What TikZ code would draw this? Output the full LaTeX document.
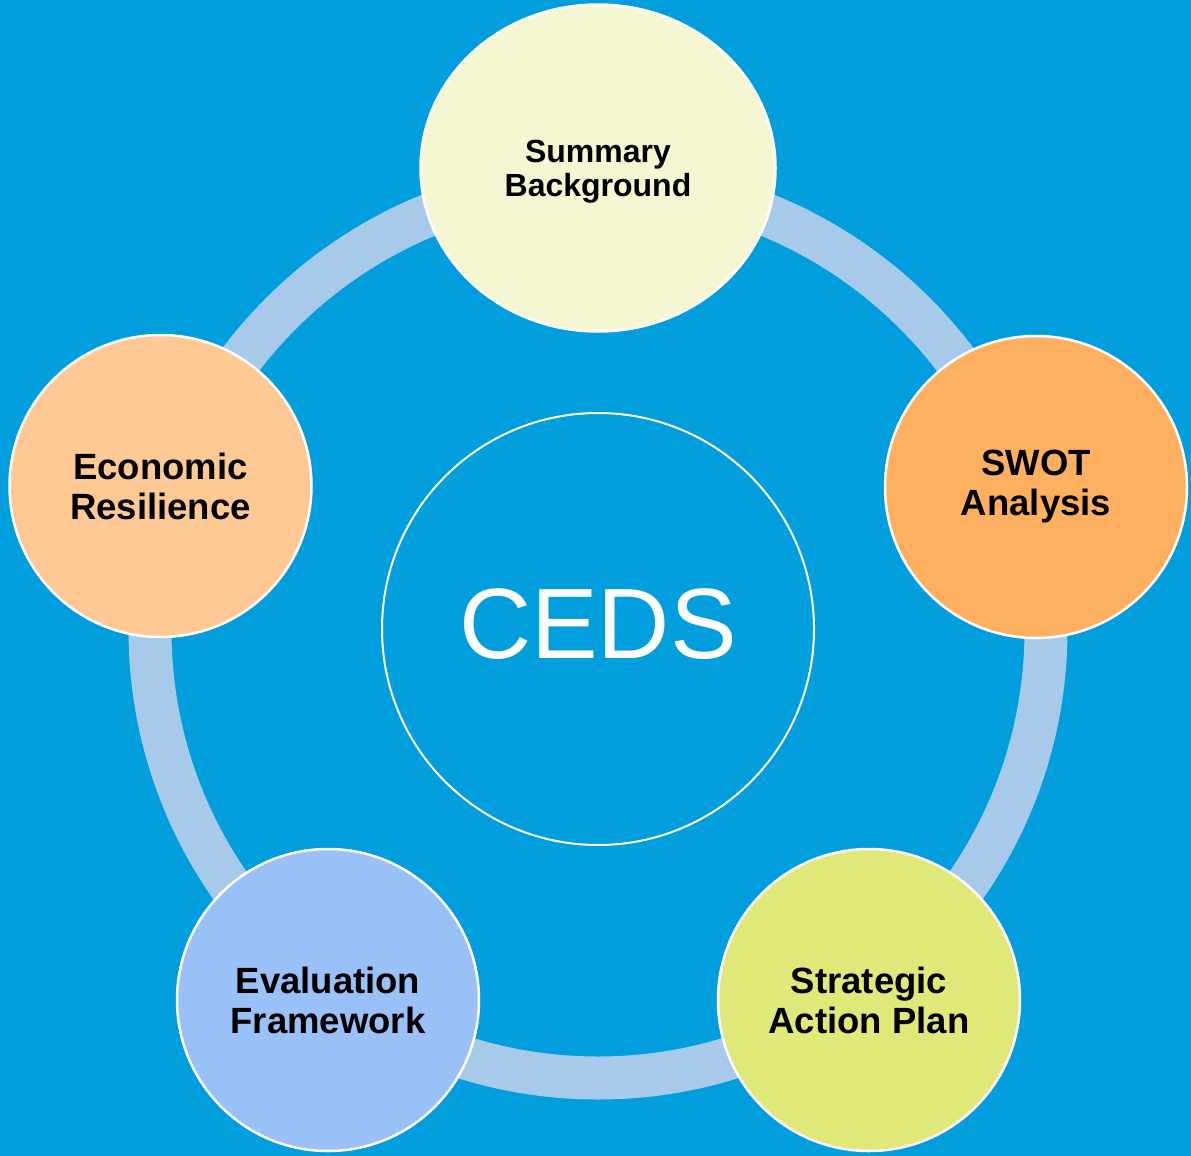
\documentclass[tikz,border=0pt]{standalone}
\usepackage{fontspec}
\setmainfont{Liberation Sans}
\usetikzlibrary{shapes.geometric}
\definecolor{bgblue}{HTML}{009EDC}
\definecolor{ringblue}{HTML}{A8CAEA}
\definecolor{sumfill}{HTML}{F5F7D2}
\definecolor{swotfill}{HTML}{FFAF60}
\definecolor{econfill}{HTML}{FFC995}
\definecolor{evalfill}{HTML}{99C1F8}
\definecolor{stratfill}{HTML}{E0E879}
\tikzset{
  bubble/.style={circle, draw=white, line width=2.5pt, minimum size=302pt, inner sep=0pt,
    align=center, font=\fontsize{36.5}{40}\selectfont\bfseries, text=black},
  ringline/.style={draw=ringblue, line width=43pt},
}
\begin{document}
\begin{tikzpicture}[x=1pt,y=-1pt]
\fill[bgblue] (0,0) rectangle (1191,1156);
\useasboundingbox (0,0) rectangle (1191,1156);
\coordinate (ringc) at (598,630);
\draw[ringline] (ringc) circle[radius=448];
\node[circle, draw=white, line width=2pt, minimum size=432pt, inner sep=0pt] (ceds) at (598,629) {};
\node[font=\fontsize{100}{100}\selectfont, text=white, inner sep=0pt] (cedstext) at (598,624) {CEDS};
\node[ellipse, draw=white, line width=2.5pt, fill=sumfill, minimum width=355pt, minimum height=327pt,
  inner sep=0pt] (sum) at (598,168) {};
\node[align=center, font=\fontsize{32}{34}\selectfont\bfseries, text=black, inner sep=0pt]
  (sumtext) at (598,172) {Summary\\Background};
\node[bubble, fill=swotfill] (swot) at (1036,487) {SWOT\\Analysis};
\node[bubble, fill=econfill] (econ) at (160.5,486) {Economic\\Resilience};
\node[bubble, fill=evalfill] (eval) at (328,1000) {Evaluation\\Framework};
\node[bubble, fill=stratfill] (strat) at (869,1000) {Strategic\\Action Plan};
\end{tikzpicture}
\end{document}
